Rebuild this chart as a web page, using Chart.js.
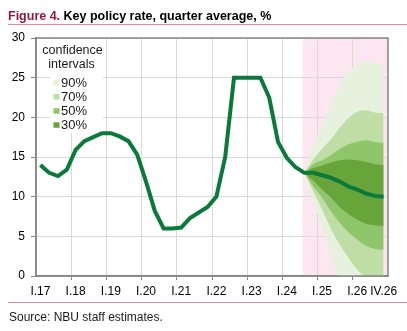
<!DOCTYPE html>
<html>
<head>
<meta charset="utf-8">
<script src="https://cdn.jsdelivr.net/npm/chart.js@4.4.1/dist/chart.umd.min.js"></script>
<style>
  html, body { margin: 0; padding: 0; background: #fff; }
  body { width: 407px; height: 331px; position: relative; overflow: hidden;
         font-family: "Liberation Sans", Arial, sans-serif; }
  #chartBox { position: absolute; left: 0; top: 0; width: 407px; height: 331px; }
  #title { position: absolute; left: 8px; top: 9px; font-size: 12.5px; line-height: 15px;
           font-weight: bold; color: #000; white-space: nowrap; }
  #title span { color: #8e1b3f; }
  .rule { position: absolute; left: 8px; right: 0; height: 1px; background: #e8879e; }
  #source { position: absolute; left: 9px; top: 310px; font-size: 12px; line-height: 14px;
            color: #1a1a1a; white-space: nowrap; }
</style>
</head>
<body>
<div id="chartBox"><canvas id="rateChart" width="407" height="331"></canvas></div>
<div id="title"><span>Figure 4.</span> Key policy rate, quarter average, %</div>
<div class="rule" style="top:24px"></div>
<div class="rule" style="top:302px"></div>
<div id="source">Source: NBU staff estimates.</div>
<script>
// ---- data ----
var quarters = [
  "I.17", "II.17", "III.17", "IV.17", "I.18", "II.18", "III.18", "IV.18",
  "I.19", "II.19", "III.19", "IV.19", "I.20", "II.20", "III.20", "IV.20",
  "I.21", "II.21", "III.21", "IV.21", "I.22", "II.22", "III.22", "IV.22",
  "I.23", "II.23", "III.23", "IV.23", "I.24", "II.24", "III.24", "IV.24",
  "I.25", "II.25", "III.25", "IV.25", "I.26", "II.26", "III.26", "IV.26"
];
var tickLabels = ["I.17", "I.18", "I.19", "I.20", "I.21", "I.22", "I.23", "I.24", "I.25", "I.26", "IV.26"];
var yTicks = [0, 5, 10, 15, 20, 25, 30];

var keyRate = [
  14.0, 13.0, 12.6, 13.4, 15.9, 17.0, 17.5, 18.0,
  18.0, 17.6, 17.0, 15.3, 11.9, 8.2, 6.0, 6.0,
  6.1, 7.3, 8.0, 8.7, 10.0, 15.0, 25.0, 25.0,
  25.0, 25.0, 22.5, 16.9, 14.9, 13.7, 13.0, 13.0,
  12.7, 12.4, 11.9, 11.3, 10.9, 10.4, 10.1, 10.0
];

// fan bounds, III.24 .. IV.26
var forecastStart = "III.24";
var upper90 = [13.0, 16.2, 18.9, 21.6, 23.9, 25.6, 26.7, 27.0, 26.8, 26.7];
var upper70 = [13.0, 14.7, 16.0, 17.2, 18.7, 19.9, 20.7, 20.9, 20.6, 20.5];
var upper50 = [13.0, 14.1, 14.6, 15.2, 16.0, 16.6, 16.9, 17.1, 16.9, 16.8];
var upper30 = [13.0, 13.6, 13.9, 14.3, 14.6, 14.7, 14.6, 14.4, 14.1, 14.0];
var lower30 = [13.0, 12.0, 10.9, 9.9, 8.7, 7.8, 7.1, 6.6, 6.4, 6.3];
var lower50 = [13.0, 11.3, 9.9, 8.2, 6.7, 5.5, 4.6, 3.8, 3.4, 3.3];
var lower70 = [13.0, 10.7, 8.4, 6.0, 4.0, 2.3, 0.8, 0.0, 0.0, 0.0];
var lower90 = [13.0, 9.6, 6.1, 2.5, 0.0, 0.0, 0.0, 0.0, 0.0, 0.0];

var bandLabels = ["90%", "70%", "50%", "30%"];
var bandColors = ["#e6f2dd", "#bedea6", "#90c66b", "#67a53b"];

var lineGreen = "#0a7a3b";
var gridGrey  = "#d9d9d9";
var axisGrey  = "#858585";

// ---- helpers ----
var startIdx = quarters.indexOf(forecastStart);
function pad(arr) {
  var out = [];
  for (var i = 0; i < startIdx; i++) out.push(null);
  return out.concat(arr);
}
function band(up, lo, color, order) {
  return [
    { data: pad(up), fill: "+1", backgroundColor: color, borderColor: "transparent",
      borderWidth: 0, pointRadius: 0, cubicInterpolationMode: "monotone", order: order },
    { data: pad(lo), fill: false, borderColor: "transparent",
      borderWidth: 0, pointRadius: 0, cubicInterpolationMode: "monotone", order: order }
  ];
}
function yearLine(ctx) {
  return (ctx.index > 0 && ctx.index % 4 === 0) ? gridGrey : "transparent";
}
function yearTick(ctx) {
  return (ctx.index > 0 && ctx.index % 4 === 0) ? axisGrey : "transparent";
}

// ---- plugins ----
var forecastShade = {
  id: "forecastShade",
  beforeDraw: function (chart) {
    var a = chart.chartArea, ctx = chart.ctx;
    var left = chart.scales.x.getPixelForValue(startIdx - 0.2);
    ctx.save();
    ctx.fillStyle = "#fce6ef";
    ctx.fillRect(left, a.top, a.right - left, a.bottom - a.top);
    ctx.restore();
  }
};

var fanLegend = {
  id: "fanLegend",
  beforeDatasetsDraw: function (chart) {
    var a = chart.chartArea, ctx = chart.ctx;
    ctx.save();
    ctx.fillStyle = "#fff";
    ctx.fillRect(a.left + 2, a.top + 1.5, 67, 31);
    ctx.fillRect(a.left + 14, a.top + 33, 53, 62);
    ctx.fillStyle = "#1a1a1a";
    ctx.font = "12.5px 'Liberation Sans', Arial, sans-serif";
    ctx.textAlign = "center";
    ctx.fillText("confidence", a.left + 36.5, a.top + 15.5);
    ctx.fillText("intervals", a.left + 35.5, a.top + 29.5);
    ctx.textAlign = "left";
    ctx.font = "13px 'Liberation Sans', Arial, sans-serif";
    for (var k = 0; k < bandLabels.length; k++) {
      var y = a.top + 48.5 + k * 14.1;
      ctx.fillStyle = bandColors[k];
      ctx.fillRect(a.left + 17.5, y - 6.5, 6, 5.5);
      ctx.fillStyle = "#1a1a1a";
      ctx.fillText(bandLabels[k], a.left + 25, y);
    }
    ctx.restore();
  },
  afterDatasetsDraw: function (chart) {
    var a = chart.chartArea, ctx = chart.ctx;
    ctx.save();
    ctx.strokeStyle = axisGrey;
    ctx.lineWidth = 1.5;
    ctx.strokeRect(a.left, a.top, a.right - a.left, a.bottom - a.top);
    ctx.restore();
  }
};

// ---- chart ----
Chart.defaults.font.family = "'Liberation Sans', Arial, sans-serif";
Chart.defaults.font.size = 12;
Chart.defaults.color = "#000";

var datasets = [{
  data: keyRate, borderColor: lineGreen, borderWidth: 4, pointRadius: 0,
  fill: false, tension: 0, order: 0
}];
datasets = datasets
  .concat(band(upper30, lower30, bandColors[3], 1))
  .concat(band(upper50, lower50, bandColors[2], 2))
  .concat(band(upper70, lower70, bandColors[1], 3))
  .concat(band(upper90, lower90, bandColors[0], 4));

new Chart(document.getElementById("rateChart"), {
  type: "line",
  data: { labels: quarters, datasets: datasets },
  options: {
    responsive: false,
    animation: false,
    layout: { padding: { top: 38, bottom: 35, left: 0, right: 19 } },
    plugins: { legend: { display: false }, tooltip: { enabled: false } },
    scales: {
      x: {
        offset: true,
        grid: { offset: true, color: yearLine, tickColor: yearTick, tickLength: 4 },
        border: { color: axisGrey, width: 1.5 },
        ticks: {
          autoSkip: false, maxRotation: 0, minRotation: 0, padding: 4,
          callback: function (v, i) {
            return tickLabels.indexOf(quarters[i]) >= 0 ? quarters[i] : "";
          }
        },
        afterFit: function (s) { s.height = 20; }
      },
      y: {
        min: yTicks[0], max: yTicks[yTicks.length - 1],
        ticks: { stepSize: yTicks[1] - yTicks[0], padding: 6 },
        grid: { color: gridGrey, tickColor: axisGrey, tickLength: 5 },
        border: { color: axisGrey, width: 1.5 },
        afterFit: function (s) { s.width = 36; }
      }
    }
  },
  plugins: [forecastShade, fanLegend]
});
</script>
</body>
</html>
